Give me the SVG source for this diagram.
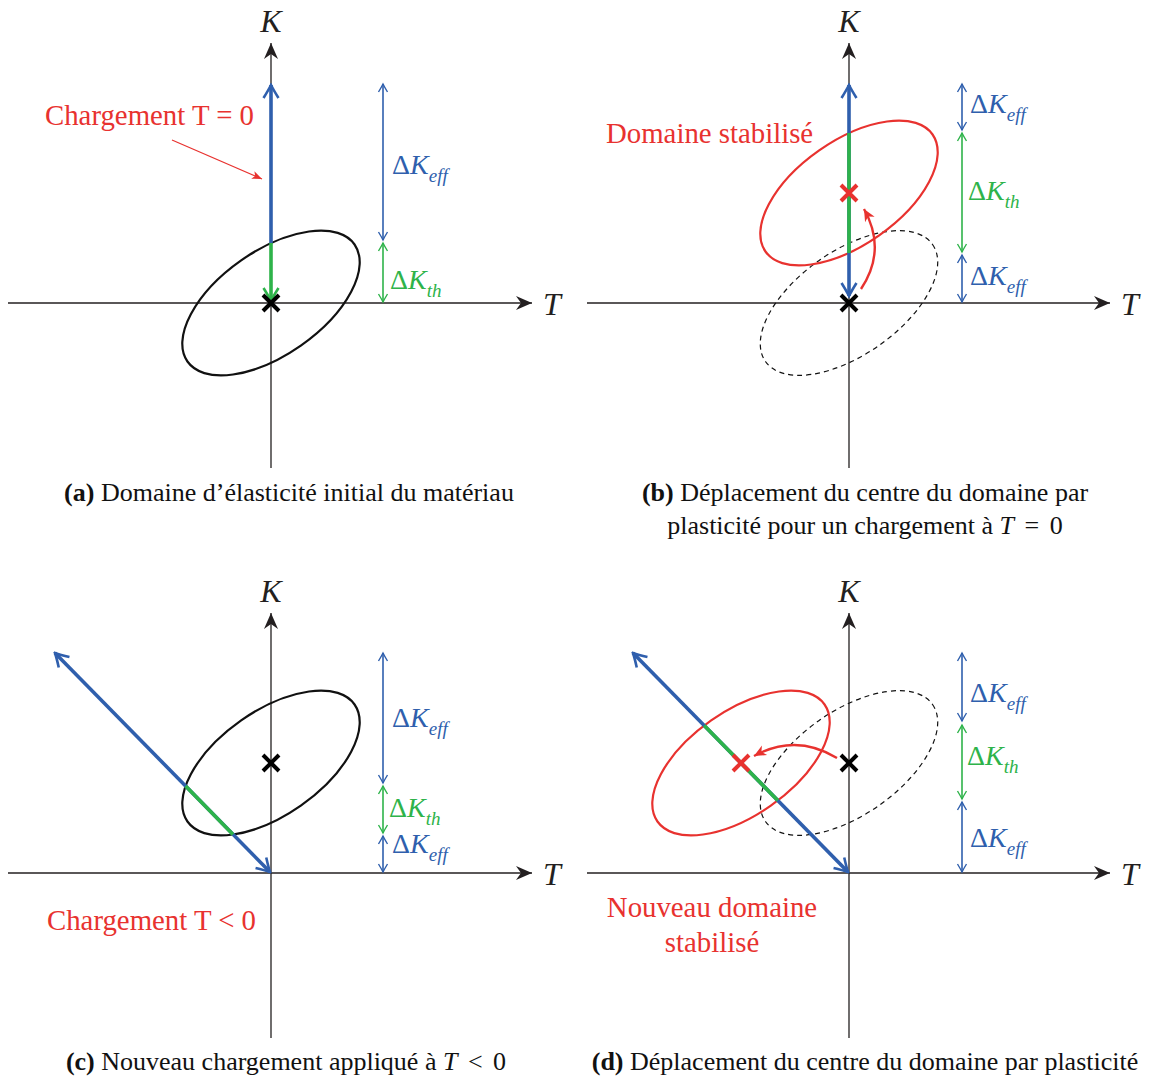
<svg xmlns="http://www.w3.org/2000/svg" width="1151" height="1079" viewBox="0 0 1151 1079">
<style>
text { font-family: "Liberation Serif", "Times New Roman", serif; }
.axis { stroke:#231f20; stroke-width:1.3; fill:none; marker-end:url(#ax); }
.axl { font-size:32px; font-style:italic; fill:#231f20; }
.dk { font-size:28px; }
.sub { font-size:19px; font-style:italic; }
.blue { fill:#2f5fad; }
.green { fill:#2eb34a; }
.red { fill:#e8322f; font-size:28.8px; }
.cap { font-size:26px; fill:#111; text-anchor:middle; }
.ell { fill:none; stroke:#111; stroke-width:2.2; }
.rell { fill:none; stroke:#e8322f; stroke-width:2.2; }
.dash { fill:none; stroke:#111; stroke-width:1.2; stroke-dasharray:5 4; }
.thinb { stroke:#2f5fad; stroke-width:1.6; fill:none; marker-start:url(#vb); marker-end:url(#vb); }
.thing { stroke:#2eb34a; stroke-width:1.6; fill:none; marker-start:url(#vg); marker-end:url(#vg); }
.mainb { stroke:#2f5fad; stroke-width:3.6; fill:none; }
.maing { stroke:#2eb34a; stroke-width:3.6; fill:none; }
.xk { stroke:#000; stroke-width:4; }
.xr { stroke:#e8322f; stroke-width:4; }
.curve { stroke:#e8322f; stroke-width:2.4; fill:none; marker-end:url(#rh); }
</style>
<defs>
<marker id="ax" viewBox="-18 -9 20 18" refX="0" refY="0" markerWidth="20" markerHeight="18" markerUnits="userSpaceOnUse" orient="auto">
<path d="M0,0 L-16,-7 L-11,0 L-16,7 Z" fill="#231f20"/>
</marker>
<marker id="vb" viewBox="-10 -6 12 12" refX="0" refY="0" markerWidth="12" markerHeight="12" markerUnits="userSpaceOnUse" orient="auto-start-reverse">
<path d="M-8,-4.5 Q-3,-1.5 0,0 Q-3,1.5 -8,4.5" fill="none" stroke="#2f5fad" stroke-width="1.4"/>
</marker>
<marker id="vg" viewBox="-10 -6 12 12" refX="0" refY="0" markerWidth="12" markerHeight="12" markerUnits="userSpaceOnUse" orient="auto-start-reverse">
<path d="M-8,-4.5 Q-3,-1.5 0,0 Q-3,1.5 -8,4.5" fill="none" stroke="#2eb34a" stroke-width="1.4"/>
</marker>
<marker id="Vb" viewBox="-16 -10 18 20" refX="0" refY="0" markerWidth="18" markerHeight="20" markerUnits="userSpaceOnUse" orient="auto-start-reverse">
<path d="M-13,-7.5 Q-5,-2.5 0,0 Q-5,2.5 -13,7.5" fill="none" stroke="#2f5fad" stroke-width="2.6"/>
</marker>
<marker id="Vg" viewBox="-16 -10 18 20" refX="0" refY="0" markerWidth="18" markerHeight="20" markerUnits="userSpaceOnUse" orient="auto-start-reverse">
<path d="M-13,-7.5 Q-5,-2.5 0,0 Q-5,2.5 -13,7.5" fill="none" stroke="#2eb34a" stroke-width="2.6"/>
</marker>
<marker id="rh" viewBox="-14 -8 16 16" refX="0" refY="0" markerWidth="16" markerHeight="16" markerUnits="userSpaceOnUse" orient="auto">
<path d="M0,0 L-12,-5.5 L-8.5,0 L-12,5.5 Z" fill="#e8322f"/>
</marker>
<marker id="rs" viewBox="-12 -6 14 12" refX="0" refY="0" markerWidth="14" markerHeight="12" markerUnits="userSpaceOnUse" orient="auto">
<path d="M0,0 L-10,-4 L-7.5,0 L-10,4 Z" fill="#e8322f"/>
</marker>
</defs>

<!-- Panel (a) -->
<g id="panel-a">
  <g id="a-axes">
    <path class="axis" d="M271 468 V43"/>
    <path class="axis" d="M8 303 H532"/>
    <text class="axl" x="271" y="32" text-anchor="middle">K</text>
    <text class="axl" x="543" y="315">T</text>
  </g>
  <g id="a-domain">
    <ellipse class="ell" cx="0" cy="0" rx="102" ry="52" transform="translate(271 303) rotate(-35)"/>
  </g>
  <g id="a-connectors">
    <path class="mainb" d="M271 243 V85" marker-end="url(#Vb)"/>
    <path class="maing" d="M271 243 V301" marker-end="url(#Vg)"/>
    <path d="M172 140 L262 179" stroke="#e8322f" stroke-width="1.2" fill="none" marker-end="url(#rs)"/>
    <path class="thinb" d="M383 84 V240"/>
    <path class="thing" d="M383 243 V302"/>
  </g>
  <g id="a-center">
    <path class="xk" d="M263 295 L279 311 M279 295 L263 311"/>
  </g>
  <text class="red" x="45" y="125">Chargement T = 0</text>
  <text class="dk blue" x="392" y="174">Δ<tspan font-style="italic">K</tspan><tspan class="sub" dy="8">eff</tspan></text>
  <text class="dk green" x="390" y="289">Δ<tspan font-style="italic">K</tspan><tspan class="sub" dy="8">th</tspan></text>
  <text class="cap" x="289" y="501"><tspan font-weight="bold">(a)</tspan> Domaine d’élasticité initial du matériau</text>
</g>

<!-- Panel (b) -->
<g id="panel-b">
  <g id="b-axes">
    <path class="axis" d="M849 468 V43"/>
    <path class="axis" d="M587 303 H1110"/>
    <text class="axl" x="849" y="32" text-anchor="middle">K</text>
    <text class="axl" x="1121" y="315">T</text>
  </g>
  <g id="b-domains">
    <ellipse class="dash" cx="0" cy="0" rx="102" ry="52" transform="translate(849 303) rotate(-35)"/>
    <ellipse class="rell" cx="0" cy="0" rx="102" ry="52" transform="translate(849 193) rotate(-35)"/>
  </g>
  <g id="b-connectors">
    <path class="mainb" d="M849 296 V85" marker-start="url(#Vb)" marker-end="url(#Vb)"/>
    <path class="maing" d="M849 133 V253"/>
    <path class="curve" d="M861 289 Q887 250 864 209"/>
    <path class="thinb" d="M962 84 V130"/>
    <path class="thing" d="M962 133 V252"/>
    <path class="thinb" d="M962 255 V302"/>
  </g>
  <g id="b-centers">
    <path class="xk" d="M841 295 L857 311 M857 295 L841 311"/>
    <path class="xr" d="M841 185 L857 201 M857 185 L841 201"/>
  </g>
  <text class="red" x="606" y="143">Domaine stabilisé</text>
  <text class="dk blue" x="970" y="113">Δ<tspan font-style="italic">K</tspan><tspan class="sub" dy="8">eff</tspan></text>
  <text class="dk green" x="968" y="200">Δ<tspan font-style="italic">K</tspan><tspan class="sub" dy="8">th</tspan></text>
  <text class="dk blue" x="970" y="285">Δ<tspan font-style="italic">K</tspan><tspan class="sub" dy="8">eff</tspan></text>
  <text class="cap" x="865" y="501"><tspan font-weight="bold">(b)</tspan> Déplacement du centre du domaine par</text>
  <text class="cap" x="865" y="534">plasticité pour un chargement à <tspan font-style="italic">T</tspan><tspan dx="4"> = </tspan><tspan dx="4">0</tspan></text>
</g>

<!-- Panel (c) -->
<g id="panel-c">
  <g id="c-axes">
    <path class="axis" d="M271 1038 V613"/>
    <path class="axis" d="M8 873 H532"/>
    <text class="axl" x="271" y="602" text-anchor="middle">K</text>
    <text class="axl" x="543" y="885">T</text>
  </g>
  <g id="c-domain">
    <ellipse class="ell" cx="0" cy="0" rx="102" ry="52" transform="translate(271 763) rotate(-35)"/>
  </g>
  <g id="c-connectors">
    <path class="mainb" d="M270 872 L55 653" marker-start="url(#Vb)" marker-end="url(#Vb)"/>
    <path class="maing" d="M185.6 785.9 L233 834.5"/>
    <path class="thinb" d="M383 653 V783"/>
    <path class="thing" d="M383 786 V833"/>
    <path class="thinb" d="M383 836 V872"/>
  </g>
  <g id="c-center">
    <path class="xk" d="M263 755 L279 771 M279 755 L263 771"/>
  </g>
  <text class="red" x="47" y="930">Chargement T &lt; 0</text>
  <text class="dk blue" x="392" y="727">Δ<tspan font-style="italic">K</tspan><tspan class="sub" dy="8">eff</tspan></text>
  <text class="dk green" x="389" y="817">Δ<tspan font-style="italic">K</tspan><tspan class="sub" dy="8">th</tspan></text>
  <text class="dk blue" x="392" y="853">Δ<tspan font-style="italic">K</tspan><tspan class="sub" dy="8">eff</tspan></text>
  <text class="cap" x="286" y="1070"><tspan font-weight="bold">(c)</tspan> Nouveau chargement appliqué à <tspan font-style="italic">T</tspan><tspan dx="4"> &lt; </tspan><tspan dx="4">0</tspan></text>
</g>

<!-- Panel (d) -->
<g id="panel-d">
  <g id="d-axes">
    <path class="axis" d="M849 1038 V613"/>
    <path class="axis" d="M587 873 H1110"/>
    <text class="axl" x="849" y="602" text-anchor="middle">K</text>
    <text class="axl" x="1121" y="885">T</text>
  </g>
  <g id="d-domains">
    <ellipse class="dash" cx="0" cy="0" rx="102" ry="52" transform="translate(849 763) rotate(-35)"/>
    <ellipse class="rell" cx="0" cy="0" rx="102" ry="52" transform="translate(741 763) rotate(-35)"/>
  </g>
  <g id="d-connectors">
    <path class="mainb" d="M848 872 L633 653" marker-start="url(#Vb)" marker-end="url(#Vb)"/>
    <path class="maing" d="M704.2 725.5 L777.8 800.5"/>
    <path class="curve" d="M837 758 Q796 733 754 756"/>
    <path class="thinb" d="M962 653 V721"/>
    <path class="thing" d="M962 725 V799"/>
    <path class="thinb" d="M962 802 V872"/>
  </g>
  <g id="d-centers">
    <path class="xk" d="M841 755 L857 771 M857 755 L841 771"/>
    <path class="xr" d="M733 755 L749 771 M749 755 L733 771"/>
  </g>
  <text class="red" x="712" y="917" text-anchor="middle">Nouveau domaine</text>
  <text class="red" x="712" y="952" text-anchor="middle">stabilisé</text>
  <text class="dk blue" x="970" y="702">Δ<tspan font-style="italic">K</tspan><tspan class="sub" dy="8">eff</tspan></text>
  <text class="dk green" x="967" y="765">Δ<tspan font-style="italic">K</tspan><tspan class="sub" dy="8">th</tspan></text>
  <text class="dk blue" x="970" y="847">Δ<tspan font-style="italic">K</tspan><tspan class="sub" dy="8">eff</tspan></text>
  <text class="cap" x="865" y="1070"><tspan font-weight="bold">(d)</tspan> Déplacement du centre du domaine par plasticité</text>
</g>
</svg>
